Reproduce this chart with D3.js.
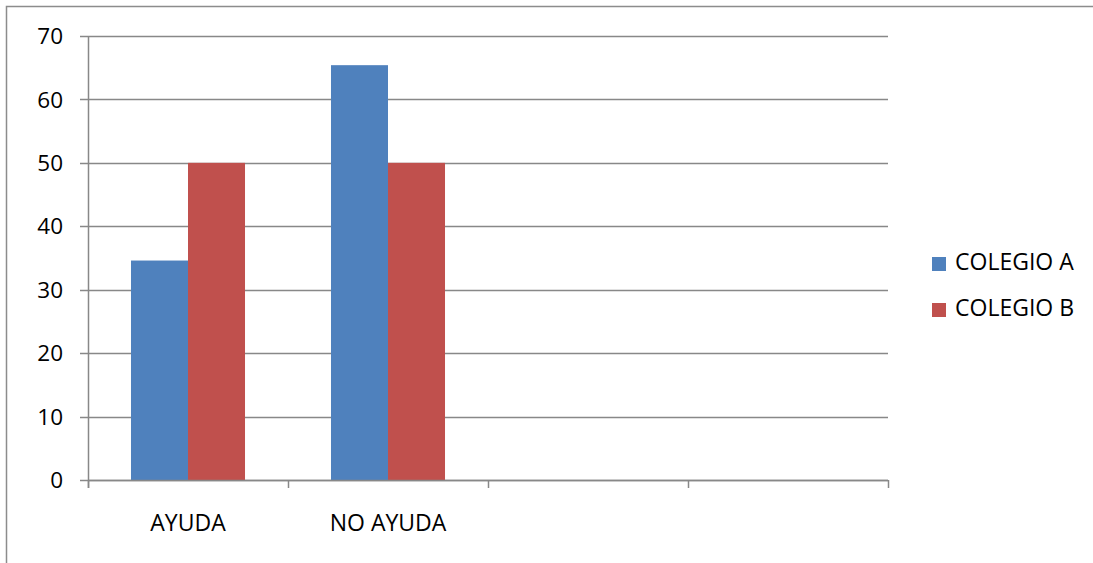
<!DOCTYPE html>
<html>
<head>
<meta charset="utf-8">
<script src="https://cdn.jsdelivr.net/npm/d3@7"></script>
<style>
  body { margin: 0; background: #fff; }
  svg { display: block; font-family: "Open Sans", "Noto Sans", sans-serif; }
</style>
</head>
<body>
<svg id="chart" width="1093" height="563"></svg>
<script>
// Category slots on the x axis (last two are empty)
const categories = ["AYUDA", "NO AYUDA", "", " "];
const seriesNames = ["COLEGIO A", "COLEGIO B"];
const colegioA = [34.6, 65.4];
const colegioB = [50, 50];
const yTicks = [0, 10, 20, 30, 40, 50, 60, 70];
const colors = ["#4F81BD", "#C0504D"];

const svg = d3.select("#chart");
const plot = { left: 88, right: 888, top: 36, bottom: 480 };

// Outer chart frame
svg.append("path")
  .attr("d", "M6.5,563 V6.5 H1093")
  .attr("fill", "none").attr("stroke", "#8c8c8c").attr("stroke-width", 1.5);

const x = d3.scaleBand().domain(categories).range([plot.left, plot.right]);
const y = d3.scaleLinear().domain([0, 70]).range([plot.bottom, plot.top]);
const xInner = d3.scaleBand().domain(seriesNames)
  .range([0, x.bandwidth()]).paddingOuter(0.754);

// Horizontal gridlines with tick stubs
svg.append("g").selectAll("line").data(yTicks).join("line")
  .attr("x1", plot.left - 8).attr("x2", plot.right)
  .attr("y1", d => Math.round(y(d)) + 0.5).attr("y2", d => Math.round(y(d)) + 0.5)
  .attr("stroke", "#888").attr("stroke-width", 1.5);

// Y axis labels
svg.append("g").selectAll("text").data(yTicks).join("text")
  .attr("x", 63).attr("y", d => y(d))
  .attr("dy", "0.36em").attr("text-anchor", "end")
  .attr("font-size", 22.5).attr("fill", "#000")
  .text(d => d);

// Bars
const series = [colegioA, colegioB];
categories.slice(0, 2).forEach((cat, i) => {
  series.forEach((vals, s) => {
    svg.append("rect")
      .attr("x", x(cat) + xInner(seriesNames[s]))
      .attr("width", xInner.bandwidth())
      .attr("y", y(vals[i]))
      .attr("height", y(0) - y(vals[i]))
      .attr("fill", colors[s]);
  });
});

// Y axis line
svg.append("line")
  .attr("x1", plot.left + 0.5).attr("x2", plot.left + 0.5)
  .attr("y1", plot.top).attr("y2", plot.bottom + 8)
  .attr("stroke", "#888").attr("stroke-width", 1.5);

// X axis line and category boundary ticks
svg.append("line")
  .attr("x1", plot.left).attr("x2", plot.right)
  .attr("y1", Math.round(y(0)) + 0.5).attr("y2", Math.round(y(0)) + 0.5)
  .attr("stroke", "#888").attr("stroke-width", 1.5);
const bounds = categories.map(c => x(c)).concat([plot.right]);
svg.append("g").selectAll("line").data(bounds).join("line")
  .attr("x1", d => d + 0.5).attr("x2", d => d + 0.5)
  .attr("y1", y(0)).attr("y2", y(0) + 8)
  .attr("stroke", "#888").attr("stroke-width", 1.5);

// Category labels
svg.append("g").selectAll("text").data(categories).join("text")
  .attr("x", d => x(d) + x.bandwidth() / 2).attr("y", 531)
  .attr("text-anchor", "middle").attr("font-size", 23).attr("fill", "#000")
  .text(d => d.trim());

// Legend
const legend = svg.append("g").selectAll("g").data(seriesNames).join("g")
  .attr("transform", (d, i) => `translate(932, ${257 + i * 46})`);
legend.append("rect").attr("width", 14).attr("height", 14)
  .attr("fill", (d, i) => colors[i]);
legend.append("text").attr("x", 23).attr("y", 13)
  .attr("font-size", 23).attr("fill", "#000")
  .text(d => d);
</script>
</body>
</html>
